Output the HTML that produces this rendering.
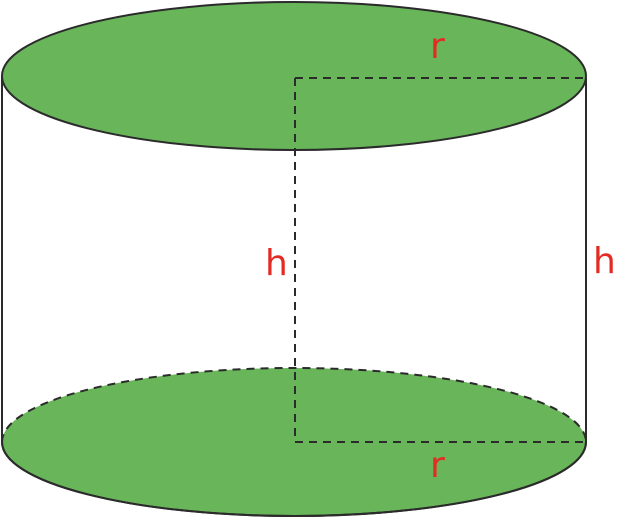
<!DOCTYPE html>
<html><head><style>body{margin:0;background:#fff}svg{display:block}</style></head>
<body>
<svg width="617" height="520" viewBox="0 0 617 520" xmlns="http://www.w3.org/2000/svg">
<g stroke="#2b2b2b" stroke-width="2" fill="none">
<path d="M2,442 A292,74 0 0 0 586,442" fill="#69b55a"/>
<path d="M2,442 A292,74 0 0 1 586,442" fill="#69b55a" stroke-dasharray="8,6"/>
<path d="M2,442 A292,74 0 0 0 586,442"/>
<line x1="2" y1="76" x2="2" y2="442"/>
<line x1="586" y1="78" x2="586" y2="442"/>
<ellipse cx="294" cy="76" rx="292" ry="74" fill="#69b55a"/>
<g stroke-dasharray="8,6">
<line x1="295" y1="78" x2="295" y2="442"/>
<line x1="295" y1="78" x2="586" y2="78"/>
<line x1="295" y1="442" x2="586" y2="442"/>
</g>
</g>
<g fill="#e32b24" font-family="'DejaVu Sans','Liberation Sans',sans-serif" font-size="36">
<text x="430" y="58">r</text>
<text x="265" y="275">h</text>
<text x="593" y="273">h</text>
<text x="430" y="477">r</text>
</g>
</svg>
</body></html>
